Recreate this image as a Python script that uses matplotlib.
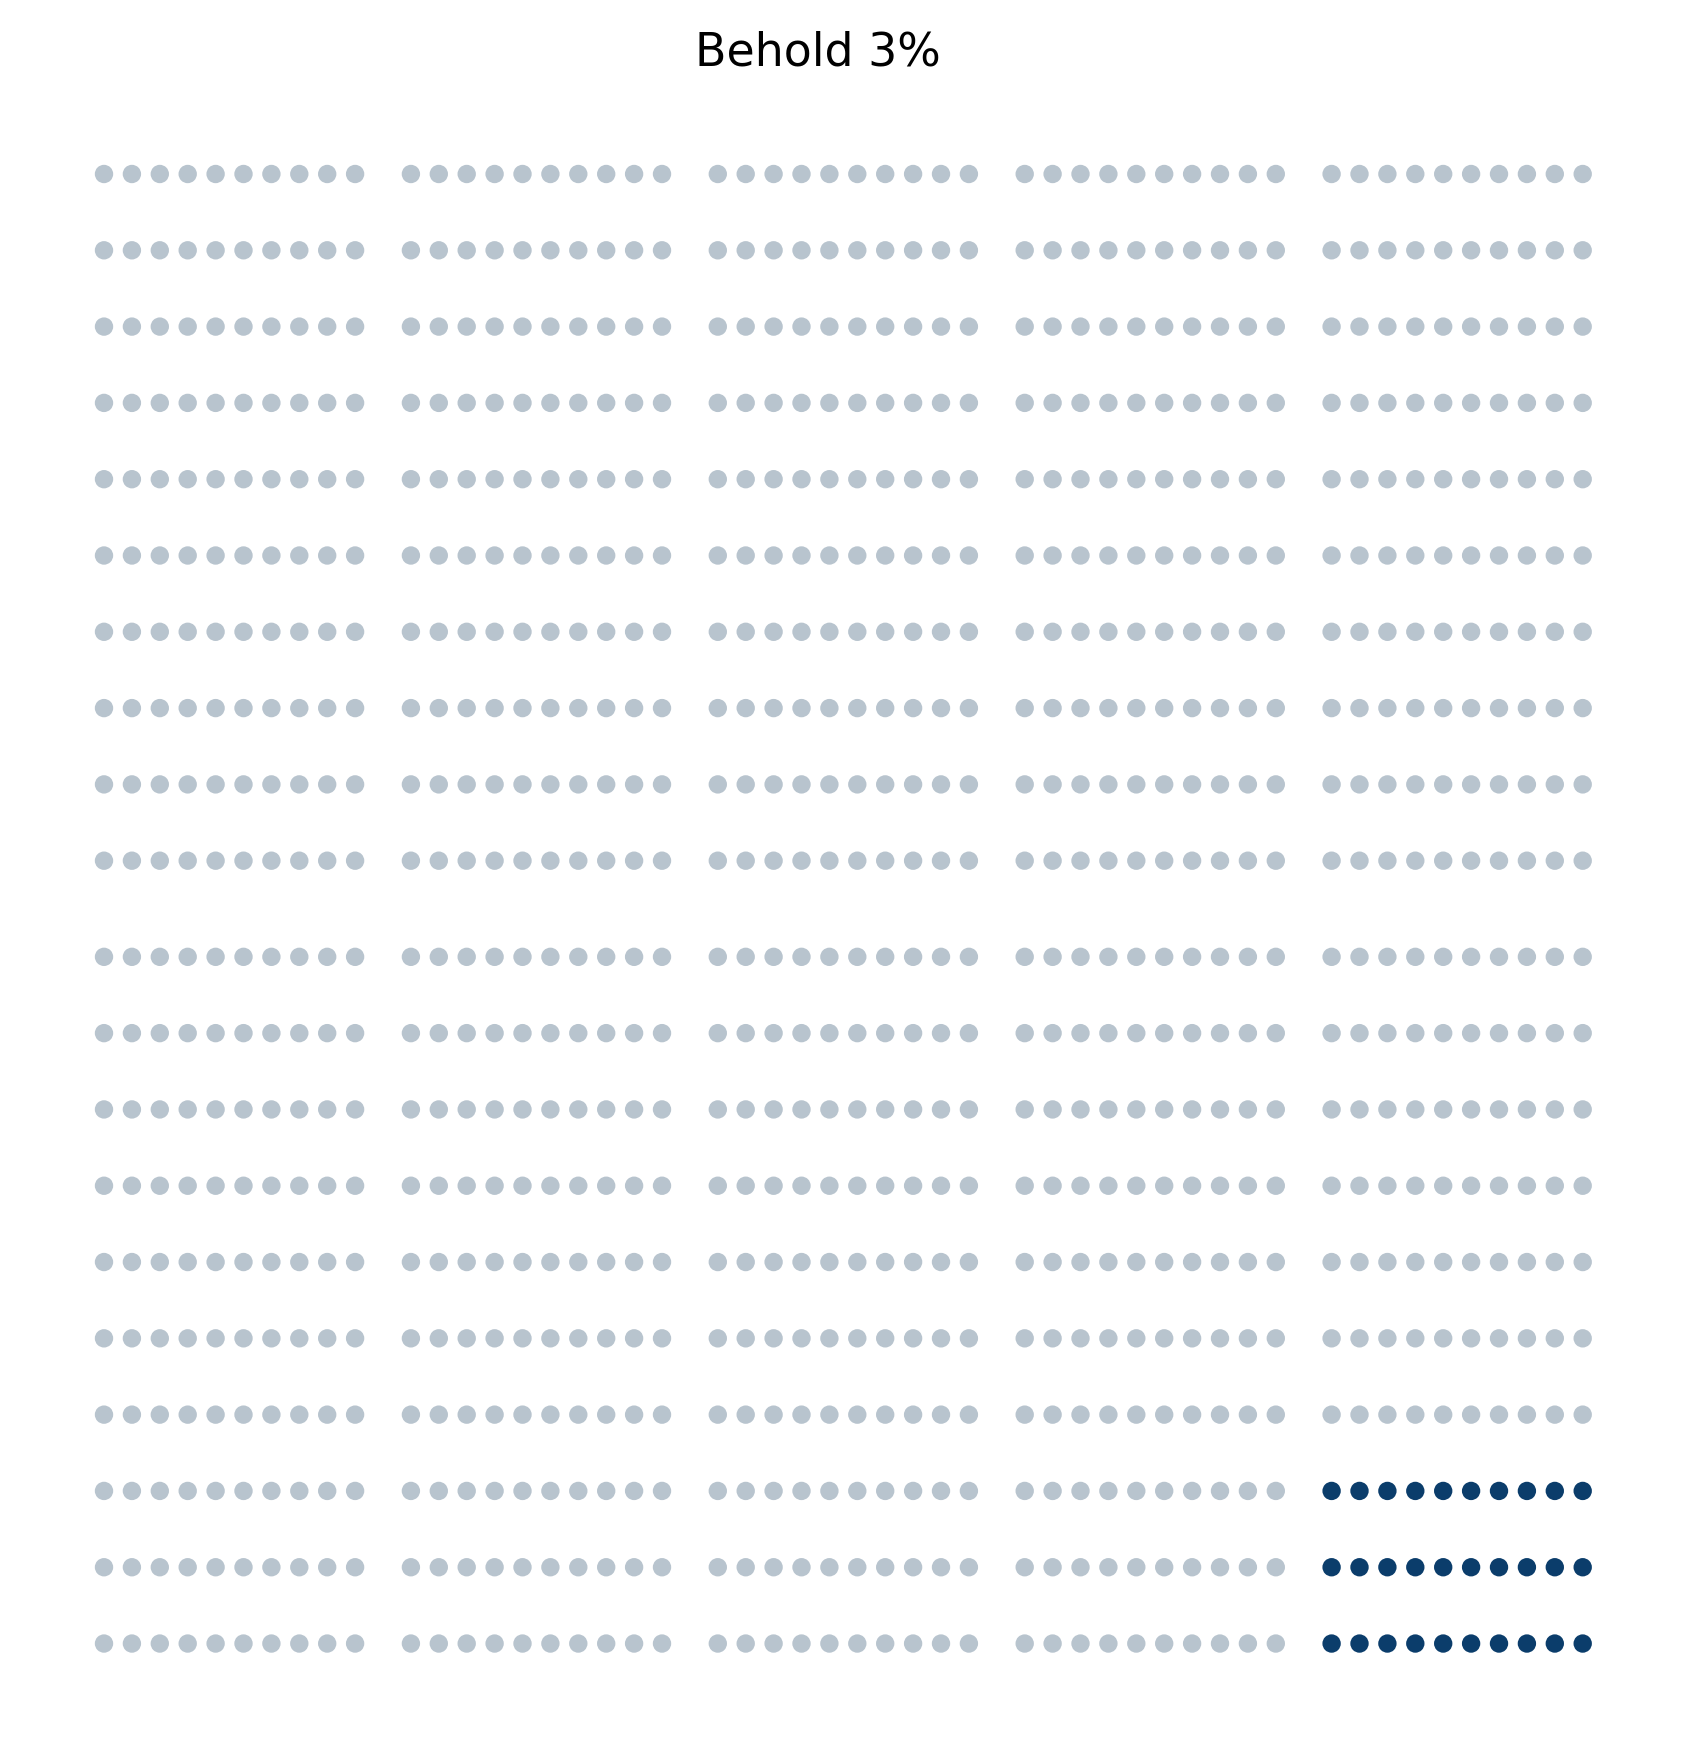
import numpy as np
import matplotlib.pyplot as plt

# Waffle of 1000 dots, 3% highlighted
title = "Behold 3%"
total_dots = 1000
highlight_dots = 30
n_blocks = 5        # column blocks
dots_per_row = 10   # dots in each block row
n_rows = 20         # rows, split into two halves of 10

grey = "#b8c4ce"
navy = "#0b3d6b"

W, H = 1687, 1747
fig = plt.figure(figsize=(W / 100, H / 100), dpi=100)

# axes placed so one x unit ~ 27.9 px and one row ~ 76.3 px
x_unit, y_unit = 27.9, 76.3
left_px, top_px = 104 - x_unit, 174 - y_unit
half_gap = 0.26
ax = fig.add_axes([left_px / W, 1 - (top_px + 21.26 * y_unit) / H,
                   55 * x_unit / W, 21.26 * y_unit / H])

xs, ys, cs = [], [], []
n_hl_rows = highlight_dots // dots_per_row
for k in np.arange(total_dots):
    row = k // (n_blocks * dots_per_row)
    rem = k % (n_blocks * dots_per_row)
    block = rem // dots_per_row
    col = rem % dots_per_row
    xs.append(block * (dots_per_row + 1) + col)
    ys.append(row + (half_gap if row >= n_rows // 2 else 0))
    # highlighted: last block, bottom rows
    hl = block == n_blocks - 1 and row >= n_rows - n_hl_rows
    cs.append(navy if hl else grey)

ax.scatter(xs, ys, s=175, c=cs, linewidths=0)
ax.set_xlim(-1, 54)
ax.set_ylim(n_rows + half_gap, -1)
ax.axis("off")

fig.text(818 / W, 1 - 65 / H, title, ha="center", va="baseline", fontsize=33)

fig.savefig("out.png", dpi=100)
